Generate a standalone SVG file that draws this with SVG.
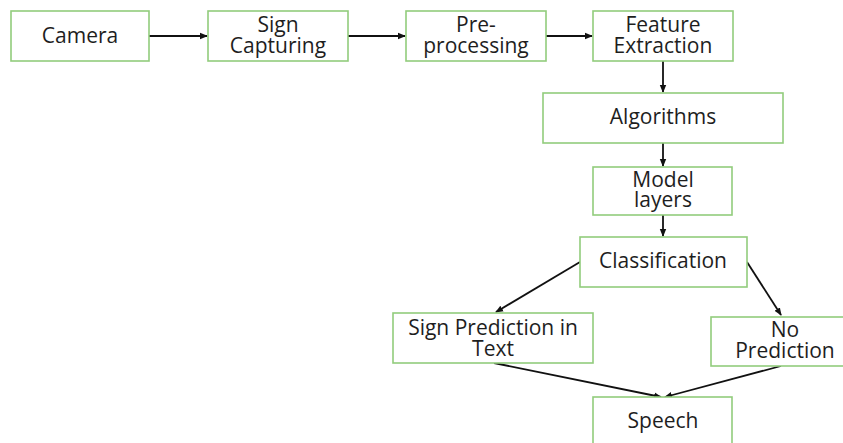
<svg xmlns="http://www.w3.org/2000/svg" width="843" height="443" viewBox="0 0 843 443">
<style>
.box{fill:#fff;stroke:#92cc7c;stroke-width:1.6}
.t{font-family:"Open Sans","Liberation Sans",sans-serif;font-size:21px;fill:#1e1e1e;text-anchor:middle}
.c{stroke:#111;stroke-width:1.8;fill:none;marker-end:url(#ah)}
</style>
<defs>
<marker id="ah" markerWidth="8" markerHeight="8" refX="7" refY="4" orient="auto" markerUnits="userSpaceOnUse">
<path d="M0,0.8 L8,4 L0,7.2 Z" fill="#111"/>
</marker>
</defs>
<rect width="843" height="443" fill="#fff"/>
<g id="connectors">
<line class="c" x1="149" y1="36" x2="207" y2="36"/>
<line class="c" x1="348" y1="36" x2="405" y2="36"/>
<line class="c" x1="546" y1="36" x2="592" y2="36"/>
<line class="c" x1="663" y1="61" x2="663" y2="92"/>
<line class="c" x1="663" y1="143" x2="663" y2="166"/>
<line class="c" x1="663" y1="215" x2="663" y2="236"/>
<line class="c" x1="580" y1="262" x2="496" y2="312"/>
<line class="c" x1="747" y1="262" x2="781" y2="315"/>
<line class="c" x1="494" y1="363" x2="661" y2="397"/>
<line class="c" x1="781" y1="366" x2="665" y2="397"/>
</g>
<g id="camera"><rect class="box" x="11" y="11" width="138" height="50"/><text class="t" x="80" y="43">Camera</text></g>
<g id="sign-capturing"><rect class="box" x="208" y="11" width="140" height="50"/><text class="t" x="278" y="32">Sign</text><text class="t" x="278" y="53">Capturing</text></g>
<g id="pre-processing"><rect class="box" x="406" y="11" width="140" height="50"/><text class="t" x="476" y="32">Pre-</text><text class="t" x="476" y="53">processing</text></g>
<g id="feature-extraction"><rect class="box" x="593" y="11" width="140" height="50"/><text class="t" x="663" y="32">Feature</text><text class="t" x="663" y="53">Extraction</text></g>
<g id="algorithms"><rect class="box" x="543" y="93" width="240" height="50"/><text class="t" x="663" y="124">Algorithms</text></g>
<g id="model-layers"><rect class="box" x="593" y="167" width="139" height="48"/><text class="t" x="663" y="187">Model</text><text class="t" x="663" y="207">layers</text></g>
<g id="classification"><rect class="box" x="580" y="237" width="167" height="50"/><text class="t" x="663" y="268">Classification</text></g>
<g id="sign-prediction"><rect class="box" x="393" y="313" width="200" height="50"/><text class="t" x="493" y="335">Sign Prediction in</text><text class="t" x="493" y="356">Text</text></g>
<g id="no-prediction"><rect class="box" x="711" y="317" width="134" height="49"/><text class="t" x="785" y="337">No</text><text class="t" x="785" y="358">Prediction</text></g>
<g id="speech"><rect class="box" x="593" y="397" width="139" height="52"/><text class="t" x="663" y="428">Speech</text></g>
</svg>
